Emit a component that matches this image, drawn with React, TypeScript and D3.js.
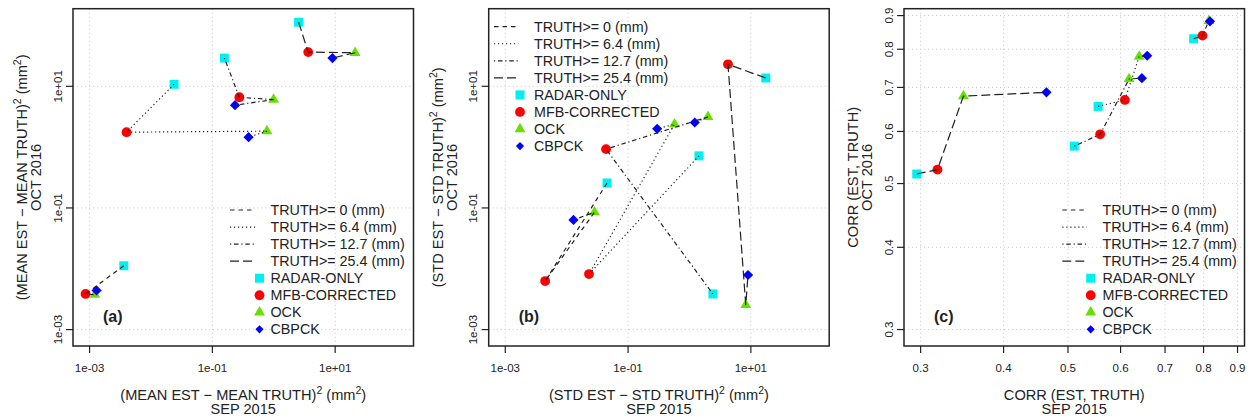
import React from "react";
import * as d3 from "d3";

// Methods (drawing order) and rain thresholds
const methods = ["RADAR-ONLY", "MFB-CORRECTED", "OCK", "CBPCK"];
const methodColors = ["#00f0f0", "#ff0000", "#66e000", "#0000ff"];
const thresholds = ["TRUTH>= 0 (mm)", "TRUTH>= 6.4 (mm)", "TRUTH>= 12.7 (mm)", "TRUTH>= 25.4 (mm)"];
const thresholdDash = ["4.5,4", "1.2,2.8", "1.2,2.8,4.5,2.8", "9,4"];

// (a) squared mean error: SEP 2015 (x) vs OCT 2016 (y), rows = thresholds, cols = methods
const meanSep = [
  [0.00361, 0.00086, 0.00122, 0.0013],
  [0.0238, 0.004, 0.774, 0.389],
  [0.157, 0.275, 0.993, 0.234],
  [2.54, 3.64, 21.1, 9.04],
];
const meanOct = [
  [0.0112, 0.00385, 0.00375, 0.00441],
  [10.8, 1.76, 1.83, 1.46],
  [29.1, 6.61, 6.05, 4.89],
  [113, 36.5, 35.6, 29.1],
];

// (b) squared std error
const stdSep = [
  [0.0454, 0.00446, 0.0284, 0.0129],
  [1.43, 0.0231, 0.571, 0.298],
  [2.41, 0.0438, 2.0, 1.22],
  [17.5, 4.24, 8.26, 8.99],
];
const stdOct = [
  [0.257, 0.00628, 0.0851, 0.0635],
  [0.719, 0.00818, 2.38, 2.0],
  [0.00385, 0.927, 3.14, 2.54],
  [13.7, 23.0, 0.00254, 0.00789],
];

// (c) correlation
const corrSep = [
  [0.773, 0.797, 0.815, 0.818],
  [0.555, 0.609, 0.64, 0.658],
  [0.511, 0.559, 0.618, 0.646],
  [0.296, 0.318, 0.348, 0.464],
];
const corrOct = [
  [0.83, 0.839, 0.884, 0.882],
  [0.655, 0.67, 0.78, 0.782],
  [0.57, 0.594, 0.721, 0.723],
  [0.517, 0.525, 0.679, 0.688],
];

const errTicks = [1e-3, 1e-1, 1e1];
const errTickLabels = ["1e-03", "1e-01", "1e+01"];
const corrTicks = [0.3, 0.4, 0.5, 0.6, 0.7, 0.8, 0.9];
const corrTickLabels = ["0.3", "0.4", "0.5", "0.6", "0.7", "0.8", "0.9"];

const FONT = "'Liberation Sans', Arial, Helvetica, sans-serif";
const TOP = 8.7;
const BOTTOM = 346;
const PW = 340.5;

type Panel = {
  left: number;
  xs: number[][];
  ys: number[][];
  domain: [number, number];
  ticks: number[];
  tickLabels: string[];
  tag: string;
  xTitle: React.ReactNode;
  yTitle: React.ReactNode;
  legend: { lineX0: number; lineX1: number; textX: number; symX: number; y0: number };
};

const sup = (s: string) => (
  <tspan baselineShift="super" fontSize="10.5">{s}</tspan>
);

const Symbol = ({ m, x, y, k = 1 }: { m: number; x: number; y: number; k?: number }) => {
  const c = methodColors[m];
  if (m === 0) {
    const h = 4.5 * k;
    return <rect x={x - h} y={y - h} width={2 * h} height={2 * h} fill={c} />;
  }
  if (m === 1) return <circle cx={x} cy={y} r={4.9 * k} fill={c} />;
  if (m === 2) {
    const r = 6.3 * k;
    const p = [
      [x, y - r],
      [x + r * 0.866, y + r * 0.5],
      [x - r * 0.866, y + r * 0.5],
    ];
    return <path d={"M" + p.map((q) => q.join(",")).join("L") + "Z"} fill={c} />;
  }
  const r = 5.1 * k;
  return <path d={`M${x},${y - r}L${x + r},${y}L${x},${y + r}L${x - r},${y}Z`} fill={c} />;
};

const PanelView = ({ p }: { p: Panel }) => {
  const x = d3.scaleLog().domain(p.domain).range([p.left, p.left + PW]);
  const y = d3.scaleLog().domain(p.domain).range([BOTTOM, TOP]);
  const line = d3
    .line<[number, number]>()
    .x((d) => x(d[0]))
    .y((d) => y(d[1]));
  const lg = p.legend;
  const rowH = 17.05;
  return (
    <g>
      {/* grid */}
      {p.ticks.map((t, i) => (
        <g key={"g" + i}>
          <line x1={x(t)} x2={x(t)} y1={TOP} y2={BOTTOM} stroke="#cfcfcf" strokeDasharray="1.2,2.8" />
          <line x1={p.left} x2={p.left + PW} y1={y(t)} y2={y(t)} stroke="#cfcfcf" strokeDasharray="1.2,2.8" />
        </g>
      ))}
      {/* points */}
      {p.xs.map((row, ti) =>
        row.map((v, mi) => <Symbol key={`p${ti}-${mi}`} m={mi} x={x(v)} y={y(p.ys[ti][mi])} />)
      )}
      {/* connecting lines */}
      {p.xs.map((row, ti) => (
        <path
          key={"l" + ti}
          d={line(row.map((v, mi) => [v, p.ys[ti][mi]] as [number, number])) || ""}
          fill="none"
          stroke="#222"
          strokeWidth={1.2}
          strokeDasharray={thresholdDash[ti]}
        />
      ))}
      {/* frame */}
      <rect x={p.left} y={TOP} width={PW} height={BOTTOM - TOP} fill="none" stroke="#222" strokeWidth={1.5} />
      {/* ticks */}
      {p.ticks.map((t, i) => (
        <g key={"t" + i} fontFamily={FONT} fontSize="11.5" fill="#222">
          <line x1={x(t)} x2={x(t)} y1={BOTTOM} y2={BOTTOM + 7} stroke="#222" strokeWidth={1.2} />
          <text x={x(t)} y={372} textAnchor="middle">
            {p.tickLabels[i]}
          </text>
          <line x1={p.left - 7} x2={p.left} y1={y(t)} y2={y(t)} stroke="#222" strokeWidth={1.2} />
          <text transform={`translate(${p.left - 11.5},${y(t)}) rotate(-90)`} textAnchor="middle">
            {p.tickLabels[i]}
          </text>
        </g>
      ))}
      {/* titles */}
      <g fontFamily={FONT} fontSize="14.6" fill="#222">
        <text x={p.left + PW / 2} y={399.5} textAnchor="middle">
          {p.xTitle}
        </text>
        <text x={p.left + PW / 2} y={414} textAnchor="middle">
          SEP 2015
        </text>
        <text transform={`translate(${p.left - 46},${(TOP + BOTTOM) / 2}) rotate(-90)`} textAnchor="middle">
          {p.yTitle}
        </text>
        <text transform={`translate(${p.left - 32},${(TOP + BOTTOM) / 2}) rotate(-90)`} textAnchor="middle">
          OCT 2016
        </text>
        <text x={p.left + 30} y={322} fontWeight="bold" fontSize="16">
          {p.tag}
        </text>
      </g>
      {/* legend */}
      <g fontFamily={FONT} fontSize="14.3" fill="#222">
        {thresholds.map((t, i) => (
          <g key={"lt" + i}>
            <line
              x1={p.left + lg.lineX0}
              x2={p.left + lg.lineX1}
              y1={lg.y0 + i * rowH}
              y2={lg.y0 + i * rowH}
              stroke="#222"
              strokeWidth={1.2}
              strokeDasharray={thresholdDash[i]}
            />
            <text x={p.left + lg.textX} y={lg.y0 + i * rowH + 5}>
              {t}
            </text>
          </g>
        ))}
        {methods.map((m, i) => (
          <g key={"lm" + i}>
            <Symbol m={i} x={p.left + lg.symX} y={lg.y0 + (i + 4) * rowH} k={i === 3 ? 0.8 : 1} />
            <text x={p.left + lg.textX} y={lg.y0 + (i + 4) * rowH + 5}>
              {m}
            </text>
          </g>
        ))}
      </g>
    </g>
  );
};

const errDomain: [number, number] = [10 ** -3.27, 10 ** 2.276];
const corrDomain: [number, number] = [0.2832, 0.922];

const panels: Panel[] = [
  {
    left: 73,
    xs: meanSep,
    ys: meanOct,
    domain: errDomain,
    ticks: errTicks,
    tickLabels: errTickLabels,
    tag: "(a)",
    xTitle: (
      <>
        (MEAN EST − MEAN TRUTH){sup("2")}
        <tspan> (mm</tspan>
        {sup("2")}
        <tspan>)</tspan>
      </>
    ),
    yTitle: (
      <>
        (MEAN EST − MEAN TRUTH){sup("2")}
        <tspan> (mm</tspan>
        {sup("2")}
        <tspan>)</tspan>
      </>
    ),
    legend: { lineX0: 157, lineX1: 182, textX: 197.5, symX: 186.5, y0: 210 },
  },
  {
    left: 488.7,
    xs: stdSep,
    ys: stdOct,
    domain: errDomain,
    ticks: errTicks,
    tickLabels: errTickLabels,
    tag: "(b)",
    xTitle: (
      <>
        (STD EST − STD TRUTH){sup("2")}
        <tspan> (mm</tspan>
        {sup("2")}
        <tspan>)</tspan>
      </>
    ),
    yTitle: (
      <>
        (STD EST − STD TRUTH){sup("2")}
        <tspan> (mm</tspan>
        {sup("2")}
        <tspan>)</tspan>
      </>
    ),
    legend: { lineX0: 5.3, lineX1: 29.6, textX: 45.3, symX: 31.3, y0: 26.7 },
  },
  {
    left: 904,
    xs: corrSep,
    ys: corrOct,
    domain: corrDomain,
    ticks: corrTicks,
    tickLabels: corrTickLabels,
    tag: "(c)",
    xTitle: "CORR (EST, TRUTH)",
    yTitle: "CORR (EST, TRUTH)",
    legend: { lineX0: 158.3, lineX1: 182.7, textX: 198.5, symX: 186.7, y0: 210 },
  },
];

export default function App() {
  return (
    <svg
      width={1252}
      height={418}
      style={{ position: "absolute", left: 0, top: 0, background: "#fff" }}
    >
      <rect width={1252} height={418} fill="#fff" />
      {panels.map((p, i) => (
        <PanelView key={i} p={p} />
      ))}
    </svg>
  );
}
